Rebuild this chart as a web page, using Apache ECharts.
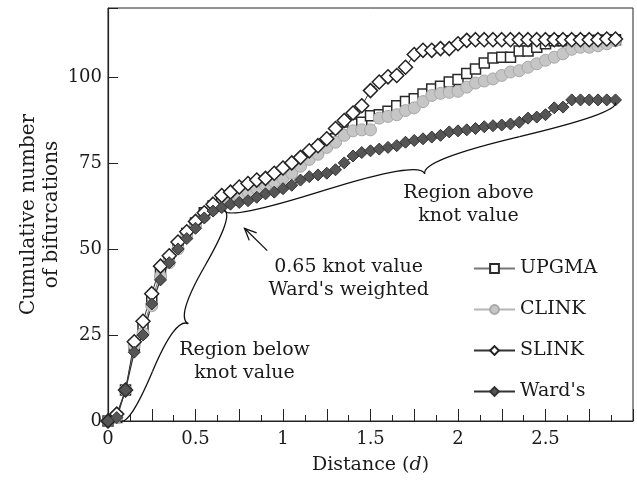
<!DOCTYPE html>
<html>
<head>
<meta charset="UTF-8">
<title>Cumulative number of bifurcations</title>
<script type="text/javascript" src="https://cdn.jsdelivr.net/npm/echarts@6/dist/echarts.min.js"></script>
<style>
html, body { margin: 0; padding: 0; background: #fff; }
#myChart { width: 637px; height: 482px; }
</style>
</head>
<body>
<div id="myChart"></div>
<script>
// distance (d) sampled every 0.05
var distance = [0, 0.05, 0.1, 0.15, 0.2, 0.25, 0.3, 0.35, 0.4, 0.45,
    0.5, 0.55, 0.6, 0.65, 0.7, 0.75, 0.8, 0.85, 0.9, 0.95,
    1.0, 1.05, 1.1, 1.15, 1.2, 1.25, 1.3, 1.35, 1.4, 1.45,
    1.5, 1.55, 1.6, 1.65, 1.7, 1.75, 1.8, 1.85, 1.9, 1.95,
    2.0, 2.05, 2.1, 2.15, 2.2, 2.25, 2.3, 2.35, 2.4, 2.45,
    2.5, 2.55, 2.6, 2.65, 2.7, 2.75, 2.8, 2.85, 2.9];

var upgma = [0, 1, 9, 22, 27, 35, 43, 47, 51, 54.5,
    57.5, 60.5, 62.5, 64, 65.5, 66.5, 67.5, 68.5, 69.5, 71,
    72, 73.5, 75.5, 77, 79, 80.5, 82, 84, 86.3, 86.8,
    88.7, 89, 90, 91.6, 92.8, 93.6, 95, 96.5, 97.3, 98.5,
    99.2, 101, 102.3, 104, 105.5, 105.7, 105.7, 107.5, 107.5, 108.6,
    109.6, 110.5, 110.5, 110.5, 110.5, 110.5, 110.6, 110.6, 110.8];

var clink = [0, 1, 9, 22, 25.5, 33.5, 42, 46, 50, 54,
    57, 59.5, 61.5, 63, 64.5, 65.5, 66.5, 67.5, 68.5, 69.5,
    70.5, 72, 74, 76, 77.5, 79.5, 81, 83, 84.3, 84.6,
    84.6, 88, 88.5, 89, 90.2, 91, 92.8, 94.6, 95.2, 95.5,
    95.8, 97, 98.2, 98.8, 99.4, 100.4, 101.4, 101.8, 102.8, 103.8,
    104.8, 105.7, 106.7, 108, 108.6, 108.6, 109, 109.6, 110.5];

var slink = [0, 2, 9, 23, 29, 37, 45, 48, 52, 55,
    58, 60.5, 63, 65.5, 66.5, 68, 69, 70, 70.5, 72,
    73.5, 75, 76.6, 78.5, 80, 82, 85, 87.3, 89.5, 91.6,
    96, 98.5, 100, 100.4, 102.8, 106.5, 107.7, 107.7, 108.2, 108.2,
    109.6, 110.6, 110.8, 110.8, 110.8, 110.8, 110.8, 110.8, 110.8, 110.8,
    110.8, 110.8, 110.8, 110.8, 110.8, 110.8, 110.8, 111, 111];

var wards = [0, 1, 9, 20, 25, 34, 41, 46, 50, 53,
    56, 59, 61, 62, 63, 63.5, 64, 65, 66, 66.5,
    67.5, 68.5, 70, 71, 71.5, 72, 73, 75, 77, 78,
    78.5, 79, 79.5, 80, 81, 81.5, 82, 82.5, 83, 84,
    84.3, 84.6, 85, 85.5, 85.8, 86, 86.3, 86.8, 88, 88.3,
    89, 91, 91.2, 93.3, 93.3, 93.3, 93.3, 93.3, 93.3];

var FONT = 'DejaVu Serif';
var INK = '#1a1a1a';

function pairs(vals) {
    var out = [];
    for (var i = 0; i < vals.length; i++) {
        out.push([distance[i], vals[i]]);
    }
    return out;
}

var chart = echarts.init(document.getElementById('myChart'), null, {renderer: 'canvas'});

var option = {
    animation: false,
    backgroundColor: '#fff',
    grid: {
        left: 108, right: 4, top: 8, bottom: 61,
        show: true, borderColor: '#222', borderWidth: 1
    },
    legend: {
        orient: 'vertical',
        left: 468, top: 254,
        itemWidth: 41, itemHeight: 11, itemGap: 22,
        textStyle: {fontFamily: FONT, fontSize: 19, color: INK},
        data: ['UPGMA', 'CLINK', 'SLINK', "Ward's"]
    },
    xAxis: {
        type: 'value', min: 0, max: 3, interval: 0.25,
        name: '{n|Distance (}{i|d}{n|)}',
        nameLocation: 'middle', nameGap: 35,
        nameTextStyle: {
            rich: {
                n: {fontFamily: FONT, fontSize: 19, color: INK},
                i: {fontFamily: FONT, fontSize: 19, color: INK, fontStyle: 'italic'}
            }
        },
        axisLine: {lineStyle: {color: '#222', width: 1.2}},
        axisTick: {inside: true, length: 12, lineStyle: {color: '#222'}},
        minorTick: {show: true, splitNumber: 2, length: 6, lineStyle: {color: '#222'}},
        splitLine: {show: false},
        axisLabel: {
            fontFamily: FONT, fontSize: 18, color: INK, margin: 9,
            formatter: function (v) {
                var twice = v * 2;
                if (Math.abs(twice - Math.round(twice)) > 1e-6 || v > 2.99) return '';
                return String(v);
            }
        }
    },
    yAxis: {
        type: 'value', min: 0, max: 120, interval: 25,
        name: 'Cumulative number\nof bifurcations',
        nameLocation: 'middle', nameGap: 45, nameRotate: 90,
        nameMoveOverlap: false,
        nameTextStyle: {fontFamily: FONT, fontSize: 20, color: INK, lineHeight: 23},
        axisLine: {lineStyle: {color: '#222', width: 1.2}},
        axisTick: {inside: true, length: 10, lineStyle: {color: '#222'}},
        splitLine: {show: false},
        axisLabel: {
            fontFamily: FONT, fontSize: 18, color: INK, margin: 6,
            formatter: function (v) { return v > 100 ? '' : String(v); }
        }
    },
    series: [
        {
            name: 'UPGMA', type: 'line', data: pairs(upgma),
            symbol: 'rect', symbolSize: 10,
            lineStyle: {color: '#777', width: 1},
            itemStyle: {color: '#fff', borderColor: '#2a2a2a', borderWidth: 1.5}
        },
        {
            name: 'CLINK', type: 'line', data: pairs(clink),
            symbol: 'circle', symbolSize: 12,
            lineStyle: {color: '#b5b5b5', width: 1},
            itemStyle: {color: '#c6c6c6', borderColor: '#a8a8a8', borderWidth: 1}
        },
        {
            name: 'SLINK', type: 'line', data: pairs(slink),
            symbol: 'diamond', symbolSize: 14,
            lineStyle: {color: '#333', width: 1},
            itemStyle: {color: '#fff', borderColor: '#222', borderWidth: 1.5}
        },
        {
            name: "Ward's", type: 'line', data: pairs(wards),
            symbol: 'diamond', symbolSize: 12,
            lineStyle: {color: '#333', width: 1.2},
            itemStyle: {color: '#555', borderColor: '#333', borderWidth: 1}
        }
    ]
};

chart.setOption(option);

// annotations: curly braces, arrow and labels, anchored in data space
function px(d, v) {
    return chart.convertToPixel({gridIndex: 0}, [d, v]);
}

function braceCurves(a, b, w, q) {
    var dx = a[0] - b[0], dy = a[1] - b[1];
    var len = Math.sqrt(dx * dx + dy * dy);
    dx /= len; dy /= len;
    var c1 = [a[0] + q * w * dy, a[1] - q * w * dx];
    var m1 = [a[0] - 0.25 * len * dx + (1 - q) * w * dy, a[1] - 0.25 * len * dy - (1 - q) * w * dx];
    var tip = [a[0] - 0.5 * len * dx + w * dy, a[1] - 0.5 * len * dy - w * dx];
    var c3 = [b[0] + q * w * dy, b[1] - q * w * dx];
    var m2 = [a[0] - 0.75 * len * dx + (1 - q) * w * dy, a[1] - 0.75 * len * dy - (1 - q) * w * dx];
    var segs = [
        [a, c1, m1],
        [m1, [2 * m1[0] - c1[0], 2 * m1[1] - c1[1]], tip],
        [b, c3, m2],
        [m2, [2 * m2[0] - c3[0], 2 * m2[1] - c3[1]], tip]
    ];
    return segs.map(function (s) {
        return {
            type: 'bezierCurve', silent: true, z: 10,
            shape: {x1: s[0][0], y1: s[0][1], cpx1: s[1][0], cpy1: s[1][1], x2: s[2][0], y2: s[2][1]},
            style: {stroke: '#111', lineWidth: 1.3, fill: null}
        };
    });
}

function label(d, v, text) {
    var p = px(d, v);
    return {
        type: 'text', x: p[0], y: p[1], z: 10, silent: true,
        style: {
            text: text, fontFamily: FONT, fontSize: 19, fill: INK, lineHeight: 23,
            textAlign: 'center', textVerticalAlign: 'middle'
        }
    };
}

var knot = px(0.665, 61.2);
var graphics = []
    .concat(braceCurves(px(0.068, 0), knot, 18, 0.6))
    .concat(braceCurves(knot, px(2.9, 92.5), 18, 0.6));

// arrow pointing at the knot
var tipA = px(0.78, 56), tailA = px(0.91, 49.5);
var ang = Math.atan2(tailA[1] - tipA[1], tailA[0] - tipA[0]);
var headLen = 13, spread = 0.42;
graphics.push({
    type: 'line', silent: true, z: 10,
    shape: {x1: tailA[0], y1: tailA[1], x2: tipA[0], y2: tipA[1]},
    style: {stroke: '#111', lineWidth: 1.3}
});
graphics.push({
    type: 'polyline', silent: true, z: 10,
    shape: {points: [
        [tipA[0] + headLen * Math.cos(ang + spread), tipA[1] + headLen * Math.sin(ang + spread)],
        tipA,
        [tipA[0] + headLen * Math.cos(ang - spread), tipA[1] + headLen * Math.sin(ang - spread)]
    ]},
    style: {stroke: '#111', lineWidth: 1.3, fill: null}
});

graphics.push(label(2.06, 62.8, 'Region above\nknot value'));
graphics.push(label(1.375, 41.5, "0.65 knot value\nWard's weighted"));
graphics.push(label(0.78, 17.2, 'Region below\nknot value'));

chart.setOption({graphic: graphics});
</script>
</body>
</html>
